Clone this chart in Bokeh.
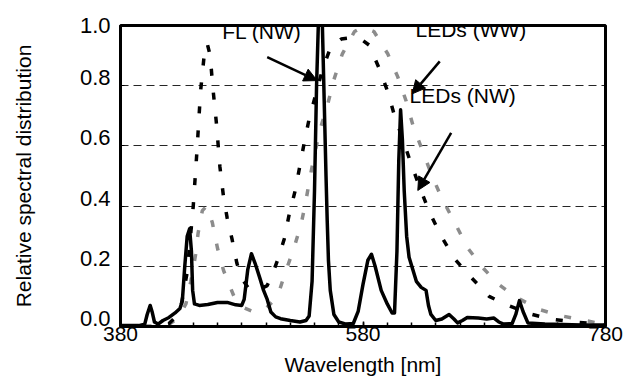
from bokeh.plotting import figure
from bokeh.models import (Range1d, FixedTicker, PrintfTickFormatter, Label, Arrow,
                          NormalHead, ColumnDataSource, LinearAxis)
from bokeh.embed import file_html
from bokeh.resources import INLINE

# ---------------- data ----------------
fl_nm = [380, 395, 400, 402, 404.5, 406, 408, 411, 415, 420, 425, 429, 431, 433, 435, 437,
         438.5, 439.5, 441, 445, 452, 460, 468, 475, 480, 482, 485, 488, 491, 495, 498, 501,
         504, 508, 512, 520, 528, 533, 535.6, 538, 540, 541.7, 543.5, 545, 546.5, 548, 549.5,
         550.5, 551.5, 553, 556, 560, 566, 572, 576, 580, 584, 587, 590, 595, 600, 604, 606,
         608, 609.5, 611, 612.5, 614, 616, 618, 621, 624, 628, 632, 634, 636, 640, 645, 651,
         655, 658, 662, 666, 675, 682, 688, 692, 696, 703, 706, 709, 712, 716, 730, 760, 780]
fl_val = [0.003, 0.003, 0.008, 0.04, 0.07, 0.05, 0.015, 0.008, 0.02, 0.03, 0.045, 0.06, 0.085,
          0.2, 0.3, 0.325, 0.25, 0.12, 0.075, 0.07, 0.073, 0.08, 0.08, 0.072, 0.07, 0.09, 0.19,
          0.242, 0.21, 0.16, 0.12, 0.09, 0.048, 0.032, 0.026, 0.02, 0.015, 0.02, 0.035, 0.15,
          0.45, 0.8, 1.05, 1.15, 1.0, 0.75, 0.5, 0.35, 0.22, 0.12, 0.04, 0.015, 0.008, 0.01,
          0.05, 0.14, 0.22, 0.24, 0.2, 0.12, 0.075, 0.045, 0.045, 0.25, 0.55, 0.72, 0.62, 0.45,
          0.3, 0.23, 0.19, 0.15, 0.13, 0.12, 0.07, 0.04, 0.02, 0.025, 0.04, 0.025, 0.012, 0.02,
          0.03, 0.028, 0.025, 0.028, 0.015, 0.008, 0.01, 0.04, 0.086, 0.05, 0.012, 0.008, 0.005,
          0.005]

led_nw_nm = [380, 410, 420, 425, 430, 435, 440, 443, 446, 449, 451.5, 454, 456, 459, 462, 465,
             468, 472, 476, 480, 486, 493, 501, 505, 509.5, 515, 519, 524, 528, 531.5, 535.6,
             541, 547, 553.6, 562, 572, 580, 585, 593.5, 600.4, 606, 613, 619.7, 627, 634.8,
             644.5, 655.5, 669, 684, 698, 716, 734, 755, 771, 780]
led_nw_val = [0.0, 0.0, 0.01, 0.03, 0.07, 0.18, 0.40, 0.58, 0.78, 0.9, 0.94, 0.9, 0.8, 0.68,
              0.53, 0.43, 0.36, 0.29, 0.21, 0.16, 0.125, 0.12, 0.136, 0.17, 0.22, 0.29, 0.37,
              0.45, 0.535, 0.61, 0.69, 0.77, 0.86, 0.93, 0.955, 0.96, 0.95, 0.935, 0.856, 0.78,
              0.70, 0.62, 0.54, 0.46, 0.38, 0.30, 0.225, 0.164, 0.10, 0.073, 0.044, 0.025,
              0.015, 0.009, 0.005]

led_ww_nm = [380, 415, 421, 428, 434, 438, 442, 444, 447.5, 451, 455.7, 460, 465, 473.6, 480,
             491, 500, 509.5, 516, 523, 529, 533, 537, 541, 545, 551, 556, 563, 573, 580, 589,
             600.4, 608.6, 615.5, 621.8, 629, 636, 644.5, 655, 666.5, 680, 691.8, 706.4, 725.7,
             743, 763, 777, 780]
led_ww_val = [0.0, 0.0, 0.01, 0.03, 0.076, 0.15, 0.24, 0.31, 0.385, 0.40, 0.346, 0.26, 0.186,
              0.10, 0.065, 0.047, 0.06, 0.10, 0.18, 0.26, 0.34, 0.42, 0.51, 0.59, 0.66, 0.74,
              0.82, 0.906, 0.98, 0.995, 0.98, 0.906, 0.83, 0.75, 0.66, 0.585, 0.51, 0.43, 0.35,
              0.26, 0.19, 0.14, 0.097, 0.056, 0.036, 0.02, 0.009, 0.008]

x_major_ticks = [380, 580, 780]
x_minor_ticks = list(range(380, 781, 20))
y_ticks = [0.0, 0.2, 0.4, 0.6, 0.8, 1.0]

FONT = "Liberation Sans"
LIFT = 0.0266   # the original's y labels sit a few pixels above their gridlines

p = figure(width=629, height=385, x_range=Range1d(380, 780), y_range=Range1d(0, 1),
           output_backend="svg", toolbar_location=None,
           min_border_left=120, min_border_right=24, min_border_top=25, min_border_bottom=59,
           background_fill_color="white", border_fill_color="white")
p.extra_y_ranges = {"lab": Range1d(-LIFT, 1 - LIFT)}

p.outline_line_color = "black"
p.outline_line_width = 3

# x axis
xa = p.xaxis[0]
xa.ticker = FixedTicker(ticks=x_major_ticks, minor_ticks=x_minor_ticks)
xa.axis_line_width = 3
xa.major_tick_in = 5
xa.major_tick_out = 0
xa.minor_tick_in = 4
xa.minor_tick_out = 0
xa.major_tick_line_width = 1.5
xa.minor_tick_line_width = 1.5
xa.major_label_text_font = FONT
xa.major_label_text_font_size = "21px"
xa.major_label_text_color = "black"
xa.major_label_standoff = 0
xa.axis_label = "Wavelength [nm]"
xa.axis_label_text_font = FONT
xa.axis_label_text_font_size = "21px"
xa.axis_label_text_font_style = "normal"
xa.axis_label_text_color = "black"
xa.axis_label_standoff = 9

# main y axis: line and inner ticks only
ya = p.yaxis[0]
ya.ticker = FixedTicker(ticks=y_ticks, minor_ticks=[])
ya.major_label_overrides = {t: "" for t in y_ticks}
ya.axis_line_width = 3
ya.major_tick_in = 4
ya.major_tick_out = 0
ya.major_tick_line_width = 1
ya.major_label_standoff = 0

# label axis (same scale, lifted)
lab_ticks = [t if t < 1 else 1 - LIFT - 0.0005 for t in y_ticks]
ylab = LinearAxis(y_range_name="lab",
                  ticker=FixedTicker(ticks=lab_ticks, minor_ticks=[]),
                  formatter=PrintfTickFormatter(format="%.1f"),
                  major_label_overrides={lab_ticks[-1]: "1.0"},
                  axis_line_color=None, major_tick_line_color=None,
                  minor_tick_line_color=None,
                  major_label_text_font=FONT, major_label_text_font_size="22px",
                  major_label_text_color="black", major_label_standoff=4,
                  axis_label="Relative spectral distribution",
                  axis_label_text_font=FONT, axis_label_text_font_size="21px",
                  axis_label_text_font_style="normal", axis_label_text_color="black",
                  axis_label_standoff=42)
p.add_layout(ylab, "left")

p.xgrid.visible = False
p.ygrid.grid_line_color = "black"
p.ygrid.grid_line_width = 1
p.ygrid.grid_line_dash = "8 5"
p.ygrid.grid_line_alpha = 0.85

src_ww = ColumnDataSource(dict(x=led_ww_nm, y=led_ww_val))
src_nw = ColumnDataSource(dict(x=led_nw_nm, y=led_nw_val))
src_fl = ColumnDataSource(dict(x=fl_nm, y=fl_val))

p.line("x", "y", source=src_ww, line_color="#8c8c8c", line_width=3.5, line_dash="7 17")
p.line("x", "y", source=src_nw, line_color="black", line_width=3.5, line_dash="7 17")
p.line("x", "y", source=src_fl, line_color="black", line_width=3.5, line_join="round")

# annotations
p.add_layout(Label(x=463.9, y=0.9435, text="FL (NW)", text_font=FONT,
                   text_font_size="21px", text_color="black"))
p.add_layout(Label(x=623.3, y=0.95, text="LEDs (WW)", text_font=FONT,
                   text_font_size="21px", text_color="black"))
p.add_layout(Label(x=618.4, y=0.7286, text="LEDs (NW)", text_font=FONT,
                   text_font_size="21px", text_color="black"))

for xs, ys, xe, ye in [(501, 0.895, 542.2, 0.817),
                       (643.3, 0.881, 620.6, 0.773),
                       (652.7, 0.643, 625.2, 0.452)]:
    p.add_layout(Arrow(end=NormalHead(size=13, fill_color="black", line_color="black"),
                       x_start=xs, y_start=ys, x_end=xe, y_end=ye,
                       line_color="black", line_width=2.5))

open("out.html", "w").write(file_html(p, INLINE))
